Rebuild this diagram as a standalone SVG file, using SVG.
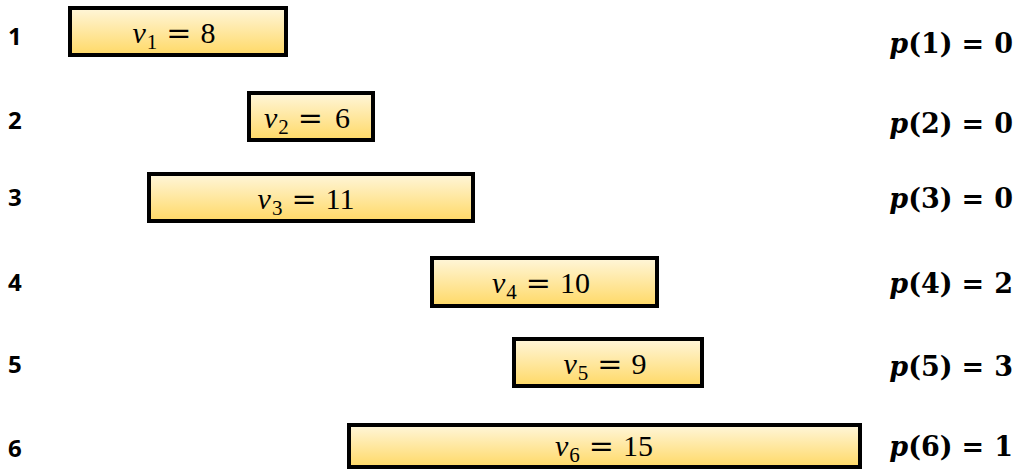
<svg xmlns="http://www.w3.org/2000/svg" width="1018" height="469" viewBox="0 0 1018 469">
<defs>
<linearGradient id="g" x1="0" y1="0" x2="0" y2="1">
<stop offset="0" stop-color="#FFF6DA"/>
<stop offset="1" stop-color="#FFD966"/>
</linearGradient>
</defs>
<style>
.box{fill:url(#g);stroke:#000;stroke-width:4}
.v{font-family:"Liberation Serif",serif;font-size:30px;fill:#000;text-anchor:middle}
.s{font-size:21px}
.eq{font-family:"DejaVu Serif",serif}
.row{font-family:"Open Sans",sans-serif;font-weight:bold;font-size:24px;fill:#000}
.p{font-family:"DejaVu Serif",serif;font-weight:bold;font-size:27px;fill:#000;text-anchor:end}
</style>
<rect width="1018" height="469" fill="#fff"/>
<g id="row1">
<text class="row" x="8" y="45">1</text>
<rect class="box" x="70" y="8" width="216" height="47"/>
<text class="v" x="174" y="43"><tspan font-style="italic">v</tspan><tspan class="s" dy="6" dx="1">1</tspan><tspan class="eq" dy="-6" dx="9">=</tspan><tspan dx="9">8</tspan></text>
<text class="p" x="1013" y="53"><tspan font-style="italic">p</tspan>(1)<tspan dx="9">=</tspan><tspan dx="10">0</tspan></text>
</g>
<g id="row2">
<text class="row" x="8" y="129">2</text>
<rect class="box" x="249" y="93" width="124" height="47"/>
<text class="v" x="307" y="128"><tspan font-style="italic">v</tspan><tspan class="s" dy="6" dx="1">2</tspan><tspan class="eq" dy="-6" dx="9">=</tspan><tspan dx="12">6</tspan></text>
<text class="p" x="1013" y="133"><tspan font-style="italic">p</tspan>(2)<tspan dx="9">=</tspan><tspan dx="10">0</tspan></text>
</g>
<g id="row3">
<text class="row" x="8" y="206">3</text>
<rect class="box" x="149" y="174" width="324" height="47"/>
<text class="v" x="306" y="209"><tspan font-style="italic">v</tspan><tspan class="s" dy="6" dx="1">3</tspan><tspan class="eq" dy="-6" dx="9">=</tspan><tspan dx="9">11</tspan></text>
<text class="p" x="1013" y="208"><tspan font-style="italic">p</tspan>(3)<tspan dx="9">=</tspan><tspan dx="10">0</tspan></text>
</g>
<g id="row4">
<text class="row" x="8" y="291">4</text>
<rect class="box" x="432" y="258" width="225" height="48"/>
<text class="v" x="541" y="293"><tspan font-style="italic">v</tspan><tspan class="s" dy="6" dx="1">4</tspan><tspan class="eq" dy="-6" dx="9">=</tspan><tspan dx="9">10</tspan></text>
<text class="p" x="1013" y="293"><tspan font-style="italic">p</tspan>(4)<tspan dx="9">=</tspan><tspan dx="10">2</tspan></text>
</g>
<g id="row5">
<text class="row" x="8" y="373">5</text>
<rect class="box" x="514" y="339" width="188" height="47"/>
<text class="v" x="605" y="374"><tspan font-style="italic">v</tspan><tspan class="s" dy="6" dx="1">5</tspan><tspan class="eq" dy="-6" dx="9">=</tspan><tspan dx="9">9</tspan></text>
<text class="p" x="1013" y="376"><tspan font-style="italic">p</tspan>(5)<tspan dx="9">=</tspan><tspan dx="10">3</tspan></text>
</g>
<g id="row6">
<text class="row" x="8" y="457">6</text>
<rect class="box" x="349" y="425" width="511" height="42"/>
<text class="v" x="604" y="456"><tspan font-style="italic">v</tspan><tspan class="s" dy="6" dx="1">6</tspan><tspan class="eq" dy="-6" dx="9">=</tspan><tspan dx="9">15</tspan></text>
<text class="p" x="1013" y="456"><tspan font-style="italic">p</tspan>(6)<tspan dx="9">=</tspan><tspan dx="10">1</tspan></text>
</g>
<g id="connectors"/>
</svg>
